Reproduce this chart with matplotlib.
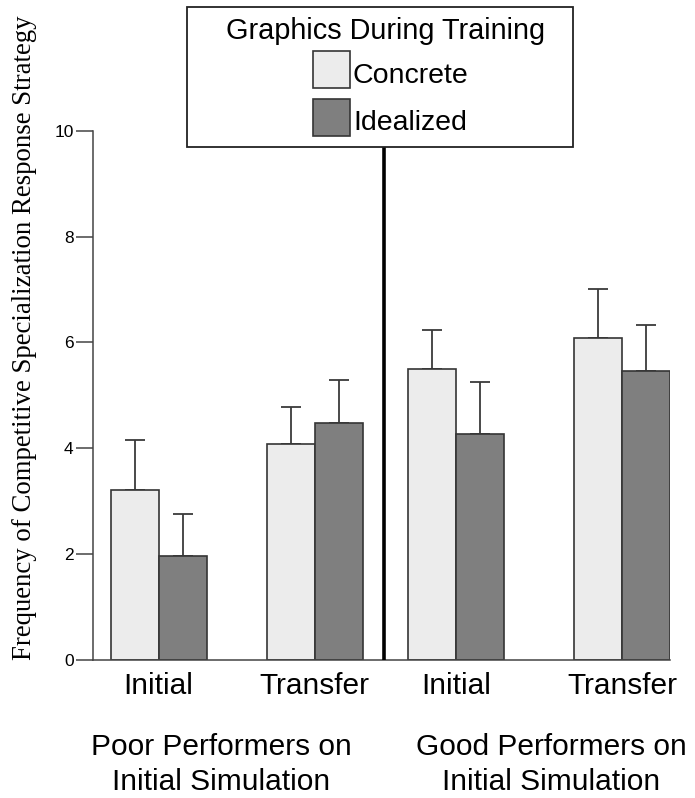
import numpy as np
import matplotlib.pyplot as plt
from matplotlib.patches import Rectangle

# mean frequency of the competitive specialization strategy, per condition
conditions = ['Initial', 'Transfer', 'Initial', 'Transfer']
groups = ['Poor Performers on\nInitial Simulation', 'Good Performers on\nInitial Simulation']
concrete = [3.21, 4.07, 5.50, 6.08]
idealized = [1.95, 4.48, 4.27, 5.45]
concrete_err = [0.95, 0.71, 0.74, 0.93]
idealized_err = [0.81, 0.80, 0.98, 0.87]
y_ticks = [0, 2, 4, 6, 8, 10]

light = '#ececec'
dark = '#7f7f7f'
edge = '#353535'
sans = ['Liberation Sans', 'DejaVu Sans']

W, H = 695, 798
fig = plt.figure(figsize=(W / 100, H / 100), dpi=100)

def fx(px):
    return px / W

def fy(py):
    return 1 - py / H

# axes box in pixels: left 92.5, right 670, top 131, bottom 659.5
ax = fig.add_axes([fx(92.5), fy(659.5), fx(670 - 92.5), (659.5 - 131) / H])

centers = np.array([1.38, 4.64, 7.59, 11.05])
bw = 1.0
ax.bar(centers - bw / 2, concrete, bw, color=light, edgecolor=edge, linewidth=1.2, zorder=2)
ax.bar(centers + bw / 2, idealized, bw, color=dark, edgecolor=edge, linewidth=1.2, zorder=2)
err_kw = dict(fmt='none', ecolor='#3a3a3a', elinewidth=1.3, capsize=7.2, capthick=1.3, zorder=1)
ax.errorbar(centers - bw / 2, concrete, yerr=[np.zeros(4), concrete_err], **err_kw)
ax.errorbar(centers + bw / 2, idealized, yerr=[np.zeros(4), idealized_err], **err_kw)

# heavy divider between the poor and good performer halves
ax.vlines(6.09, 0, (659.5 - 147) / 52.85, color='black', linewidth=2.6, clip_on=False, zorder=3)

ax.set_xlim(0, 12.05)
ax.set_ylim(0, 10)
ax.set_yticks(y_ticks)
ax.set_yticklabels([str(t) for t in y_ticks], family=sans, fontsize=12.5)
ax.tick_params(axis='y', length=12.5, width=1.1, color='#444444', pad=1)
ax.set_xticks(centers)
ax.set_xticklabels(conditions, family=sans, fontsize=21.5)
ax.tick_params(axis='x', length=0, pad=9)
for side in ['top', 'right']:
    ax.spines[side].set_visible(False)
for side in ['left', 'bottom']:
    ax.spines[side].set_color('#444444')
    ax.spines[side].set_linewidth(1.1)

fig.text(fx(25), fy(338), 'Frequency of Competitive Specialization Response Strategy',
         rotation=90, ha='center', va='center', family=['Liberation Serif', 'DejaVu Serif'],
         fontsize=19.3)

fig.text(fx(221), fy(733), groups[0], ha='center', va='top', family=sans,
         fontsize=21.5, linespacing=1.3)
fig.text(fx(551), fy(733), groups[1], ha='center', va='top', family=sans,
         fontsize=21.5, linespacing=1.3)

# legend box above the plot
fig.add_artist(Rectangle((fx(187), fy(147)), fx(573 - 187), (147 - 7) / H,
                         transform=fig.transFigure, facecolor='white', edgecolor='#222222',
                         linewidth=1.3, zorder=5))
fig.text(fx(386), fy(39), 'Graphics During Training', ha='center', va='baseline',
         family=sans, fontsize=20.8, zorder=6)
for top, color, name, base in [(51, light, 'Concrete', 83), (99, dark, 'Idealized', 130)]:
    fig.add_artist(Rectangle((fx(313), fy(top + 37)), fx(37), 37 / H,
                             transform=fig.transFigure, facecolor=color, edgecolor=edge,
                             linewidth=1.2, zorder=6))
    fig.text(fx(353), fy(base), name, ha='left', va='baseline', family=sans,
             fontsize=20.5, zorder=6)

fig.savefig('out.png', dpi=100)
